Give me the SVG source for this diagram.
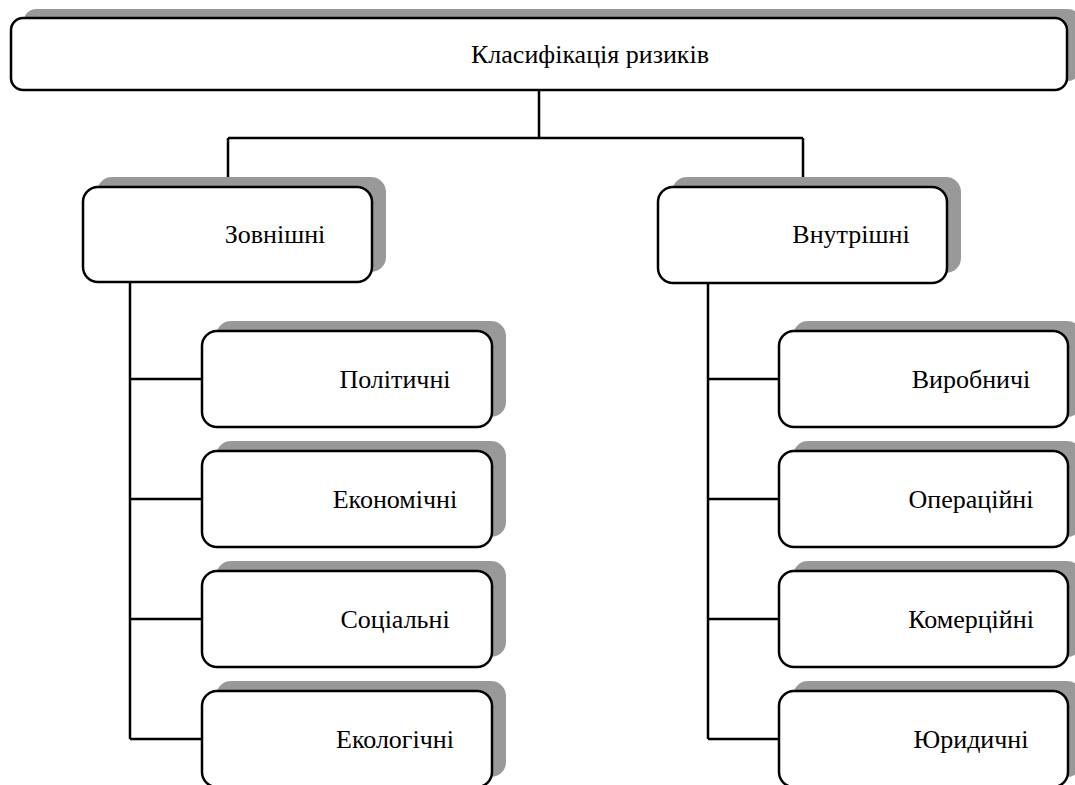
<svg xmlns="http://www.w3.org/2000/svg" width="1075" height="785" viewBox="0 0 1075 785">
<style>
.sh{fill:#999999;stroke:none}
.bx{fill:#ffffff;stroke:#000000;stroke-width:2.5}
.t{font-family:'Liberation Serif','Times New Roman','DejaVu Serif',serif;font-size:26px;fill:#000000;text-anchor:middle}
.c{fill:none;stroke:#000000;stroke-width:2.5}
</style>
<rect width="1075" height="785" fill="#ffffff"/>
<g id="connectors">
<path class="c" d="M539,90 V138 M228,138 H803 M228,138 V187 M803,138 V187"/>
<path class="c" d="M130,282 V739 M130,379 H202 M130,499 H202 M130,619 H202 M130,739 H202"/>
<path class="c" d="M708,283 V739 M708,379 H779 M708,499 H779 M708,619 H779 M708,739 H779"/>
</g>
<g id="root">
<rect class="sh" x="24" y="9" width="1056" height="72" rx="12"/>
<rect class="bx" x="11" y="18" width="1056" height="72" rx="12"/>
<text class="t" x="590" y="63" font-family="Liberation Serif, DejaVu Serif, serif">Класифікація ризиків</text>
</g>
<g id="external">
<rect class="sh" x="97" y="177" width="289" height="95" rx="15"/>
<rect class="bx" x="83" y="187" width="289" height="95" rx="15"/>
<text class="t" x="275" y="243" font-family="Liberation Serif, DejaVu Serif, serif">Зовнішні</text>
</g>
<g id="internal">
<rect class="sh" x="672" y="177" width="289" height="96" rx="15"/>
<rect class="bx" x="658" y="187" width="289" height="96" rx="15"/>
<text class="t" x="851" y="243" font-family="Liberation Serif, DejaVu Serif, serif">Внутрішні</text>
</g>
<g id="political">
<rect class="sh" x="216" y="321" width="290" height="96" rx="15"/>
<rect class="bx" x="202" y="331" width="290" height="96" rx="15"/>
<text class="t" x="395" y="388" font-family="Liberation Serif, DejaVu Serif, serif">Політичні</text>
</g>
<g id="economic">
<rect class="sh" x="216" y="441" width="290" height="96" rx="15"/>
<rect class="bx" x="202" y="451" width="290" height="96" rx="15"/>
<text class="t" x="395" y="508" font-family="Liberation Serif, DejaVu Serif, serif">Економічні</text>
</g>
<g id="social">
<rect class="sh" x="216" y="561" width="290" height="96" rx="15"/>
<rect class="bx" x="202" y="571" width="290" height="96" rx="15"/>
<text class="t" x="395" y="628" font-family="Liberation Serif, DejaVu Serif, serif">Соціальні</text>
</g>
<g id="ecological">
<rect class="sh" x="216" y="681" width="290" height="96" rx="15"/>
<rect class="bx" x="202" y="691" width="290" height="96" rx="15"/>
<text class="t" x="395" y="748" font-family="Liberation Serif, DejaVu Serif, serif">Екологічні</text>
</g>
<g id="production">
<rect class="sh" x="793" y="321" width="289" height="96" rx="15"/>
<rect class="bx" x="779" y="331" width="289" height="96" rx="15"/>
<text class="t" x="971" y="388" font-family="Liberation Serif, DejaVu Serif, serif">Виробничі</text>
</g>
<g id="operational">
<rect class="sh" x="793" y="441" width="289" height="96" rx="15"/>
<rect class="bx" x="779" y="451" width="289" height="96" rx="15"/>
<text class="t" x="971" y="508" font-family="Liberation Serif, DejaVu Serif, serif">Операційні</text>
</g>
<g id="commercial">
<rect class="sh" x="793" y="561" width="289" height="96" rx="15"/>
<rect class="bx" x="779" y="571" width="289" height="96" rx="15"/>
<text class="t" x="971" y="628" font-family="Liberation Serif, DejaVu Serif, serif">Комерційні</text>
</g>
<g id="legal">
<rect class="sh" x="793" y="681" width="289" height="96" rx="15"/>
<rect class="bx" x="779" y="691" width="289" height="96" rx="15"/>
<text class="t" x="971" y="748" font-family="Liberation Serif, DejaVu Serif, serif">Юридичні</text>
</g>
</svg>
